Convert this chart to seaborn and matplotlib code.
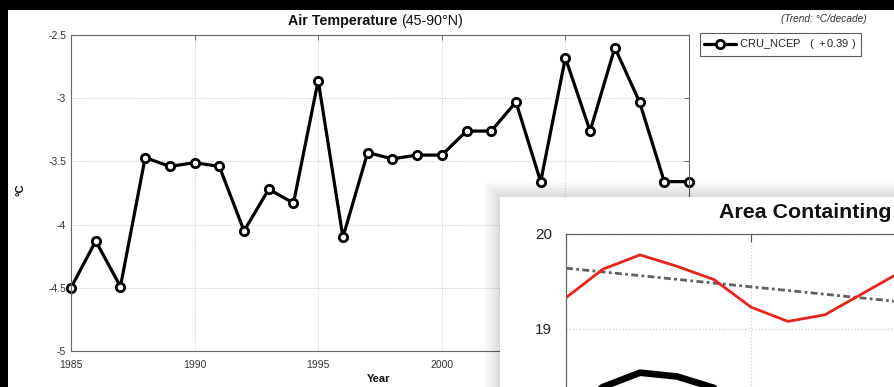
import numpy as np
import pandas as pd
import matplotlib
matplotlib.use("Agg")
import matplotlib.pyplot as plt
from matplotlib.patches import Rectangle
import seaborn as sns

# ---------------- data ----------------
years = list(range(1985, 2011))
air_temp = [-4.50, -4.13, -4.49, -3.47, -3.54, -3.51, -3.54, -4.05, -3.72, -3.83,
            -2.86, -4.10, -3.43, -3.48, -3.45, -3.45, -3.26, -3.26, -3.03, -3.66,
            -2.68, -3.26, -2.60, -3.03, -3.66, -3.66]
x_ticks = [1985, 1990, 1995, 2000]
y_ticks = [-5, -4.5, -4, -3.5, -3, -2.5]
y_tick_labels = ["-5", "-4.5", "-4", "-3.5", "-3", "-2.5"]
series_name = "CRU_NCEP"
trend_label = "+0.39"

# overlay window chart
inset_idx = list(range(0, 10))
inset_red = [19.33, 19.63, 19.78, 19.66, 19.52, 19.23, 19.08, 19.15, 19.37, 19.59]
inset_black = [18.15, 18.39, 18.54, 18.50, 18.38, 18.10, 17.90, 18.00, 18.20, 18.35]
trend_x = [0, 12]
trend_y = [19.64, 19.17]
inset_y_ticks = [19, 20]

W, H = 894, 387
def fx(x): return x / W
def fy(y): return 1 - y / H

sns.set_style("white")
plt.rcParams['font.family'] = ['Liberation Sans', 'DejaVu Sans']
plt.rcParams['mathtext.fontset'] = 'custom'
plt.rcParams['mathtext.rm'] = 'Liberation Sans'
plt.rcParams['mathtext.it'] = 'Liberation Sans:italic'

fig = plt.figure(figsize=(W / 100, H / 100), dpi=100, facecolor='black')

# white panel of main window
fig.add_artist(Rectangle((fx(8), 0), 1 - fx(8), fy(10), transform=fig.transFigure,
                         facecolor='white', edgecolor='none', zorder=-10))

# ---------------- main axes ----------------
ax = fig.add_axes([fx(71), fy(351), fx(689) - fx(71), fy(35) - fy(351)], zorder=1)
ax.set_facecolor('white')
df = pd.DataFrame({"Year": years, "Temp": air_temp})
sns.lineplot(data=df, x="Year", y="Temp", ax=ax, color='black', lw=2.3,
             marker='o', markersize=6, markerfacecolor='white',
             markeredgecolor='black', markeredgewidth=2.0, clip_on=False,
             label=series_name + r"   $\mathit{(\ " + trend_label + r"\ )}$")
ax.set_xlim(1985, 2010)
ax.set_ylim(-5, -2.5)
ax.set_xticks(x_ticks + [2005, 2010])
ax.set_xticklabels([str(t) for t in x_ticks] + ["", ""])
ax.set_yticks(y_ticks)
ax.set_yticklabels(y_tick_labels)
ax.tick_params(axis='both', direction='in', length=3.5, width=0.6, colors='#555',
               labelcolor='#333', labelsize=7.5, top=True, right=True, pad=3.5)
ax.tick_params(axis='x', pad=6.5)
ax.grid(True, color='#c8c8c8', linestyle=':', linewidth=0.7)
for s in ax.spines.values():
    s.set_color('#666')
    s.set_linewidth(0.8)
ax.set_xlabel("")
ax.set_ylabel("")

leg = ax.legend(loc='upper left', bbox_to_anchor=(fx(700), fy(33)),
                bbox_transform=fig.transFigure, borderaxespad=0, frameon=True,
                fancybox=False, fontsize=8, handlelength=2.8, handletextpad=0.3,
                borderpad=0.4)
leg.get_frame().set_edgecolor('#333')
leg.get_frame().set_linewidth(0.8)

fig.text(fx(397), fy(21), "Air Temperature", ha='right', va='center',
         weight='bold', size=10.3, color='#111')
fig.text(fx(401), fy(21), "(45-90°N)", ha='left', va='center', size=10.3, color='#111')
fig.text(fx(867), fy(19), "(Trend: °C/decade)", ha='right', va='center',
         style='italic', size=7.3, color='#333')
fig.text(fx(379), fy(379), "Year", ha='center', va='center', weight='bold',
         size=8, color='#111')
fig.text(fx(20), fy(190), "°C", ha='center', va='center', weight='bold',
         size=8, rotation=90, color='#111')

# ---------------- overlay window ----------------
wx, wy = 500, 197
for i in range(12):
    d = 1.3 * (i + 1)
    fig.add_artist(Rectangle((fx(wx - d), fy(H + 60)), 1.2, fy(wy - d) - fy(H + 60),
                             transform=fig.transFigure, facecolor='black',
                             edgecolor='none', alpha=0.012, zorder=3))
axw = fig.add_axes([fx(wx), fy(H + 60), 0.6, fy(wy) - fy(H + 60)], zorder=4)
axw.set_facecolor('white')
axw.set_xticks([])
axw.set_yticks([])
for s in axw.spines.values():
    s.set_visible(False)
axw.text(fx(719), fy(212), "Area Containting", transform=fig.transFigure,
         ha='left', va='center', weight='bold', size=15.4, color='#111')

px_step = 37.0
axi = fig.add_axes([fx(566), fy(234 + 3 * 95), fx(566 + 12 * px_step) - fx(566),
                    fy(234) - fy(234 + 3 * 95)], zorder=5)
axi.set_facecolor('white')
axi.set_xlim(0, 12)
axi.set_ylim(17, 20)
sns.lineplot(x=trend_x, y=trend_y, ax=axi, color='#606060', lw=2.0,
             dashes=False, linestyle=(0, (2.5, 1.2, 1.0, 1.2)))
sns.lineplot(x=inset_idx, y=inset_red, ax=axi, color='#e8231b', lw=2.0)
sns.lineplot(x=inset_idx, y=inset_black, ax=axi, color='black', lw=4.8)
axi.set_xticks([0, 5, 10])
axi.set_xticklabels([])
axi.set_yticks(inset_y_ticks)
axi.set_yticklabels([str(t) for t in inset_y_ticks])
axi.tick_params(direction='in', length=6, width=0.8, colors='#555', labelcolor='#222',
                labelsize=11, top=True, right=True, pad=10)
axi.grid(True, color='#cfcfcf', linestyle=':', linewidth=0.9)
for s in axi.spines.values():
    s.set_color('#666')
    s.set_linewidth(0.9)
axi.set_xlabel("")
axi.set_ylabel("")

fig.savefig("out.png", dpi=100, facecolor='black')
